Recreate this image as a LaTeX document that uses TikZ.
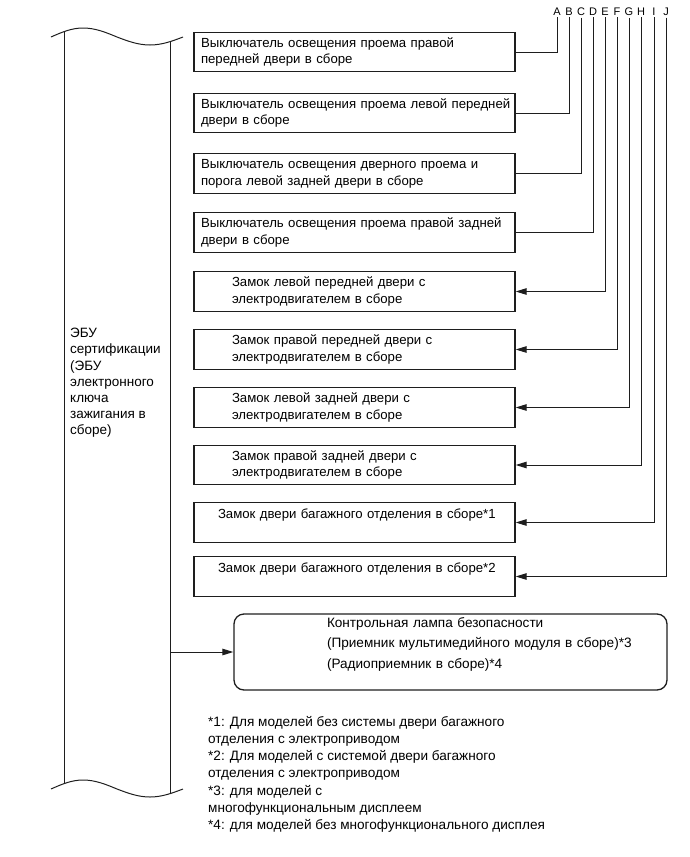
\documentclass[tikz,border=0pt]{standalone}
\usepackage{fontspec}
\setmainfont{Liberation Sans}
\usepackage{tikz}
\usetikzlibrary{arrows.meta,positioning}
\definecolor{Ink}{HTML}{1E1E1E}
\tikzset{
  wire/.style={line width=1pt,draw=Ink},
  sigarrow/.style={-{Triangle[length=11pt,width=6.5pt]},line width=1pt,draw=Ink},
  unitbox/.style={draw=Ink,line width=1.3pt,minimum width=321pt,minimum height=39.5pt,
    text width=313pt,inner xsep=4pt,inner ysep=0pt,align=left,
    font=\fontsize{13.2}{16.7}\selectfont,
    execute at begin node={\setlength\leftskip{3pt}\rightskip=-20pt plus 1fil}},
  lockbox/.style={unitbox,execute at begin node={\setlength\leftskip{34pt}\rightskip=-20pt plus 1fil}},
  trunkbox/.style={unitbox,execute at begin node={\setlength\leftskip{20pt}\rightskip=-20pt plus 1fil}},
  lampbox/.style={draw=Ink,line width=1.3pt,rounded corners=10pt,minimum width=433pt,minimum height=76pt,
    text width=425pt,inner xsep=4pt,inner ysep=0pt,align=left,
    font=\fontsize{13.6}{16.5}\selectfont,execute at begin node={\setlength\leftskip{89pt}}},
  pinlabel/.style={inner sep=1.5pt,font=\fontsize{11}{13}\selectfont},
  plain/.style={inner sep=0pt,align=left,font=\fontsize{13.5}{16.2}\selectfont},
}

\begin{document}
\begin{tikzpicture}[x=1pt,y=-1pt]
    \useasboundingbox (0,0) rectangle (689,857);

    \draw[wire] (51,37) sin (83,28) cos (117,37) sin (150,45) cos (183,37);
    \draw[wire] (51,789) sin (83,780) cos (117,789) sin (150,797) cos (183,789);
    \draw[wire] (64,32) -- (64,784);
    \draw[wire] (170,42) -- (170,794);
    \node[plain,anchor=north west] (ecu) at (70,328) {ЭБУ\\сертификации\\(ЭБУ\\электронного\\ключа\\зажигания в\\сборе)};
    \coordinate (ecuout) at (170,652);

    \node[unitbox] (sw1) at (354.5,52) {Выключатель освещения проема правой\\передней двери в сборе};
    \node[unitbox] (sw2) at (354.5,113) {Выключатель освещения проема левой передней\\двери в сборе};
    \node[unitbox] (sw3) at (354.5,173.5) {Выключатель освещения дверного проема и\\порога левой задней двери в сборе};
    \node[unitbox] (sw4) at (354.5,232.5) {Выключатель освещения проема правой задней\\двери в сборе};
    \node[lockbox] (lk5) at (354.5,291.5) {Замок левой передней двери с\\электродвигателем в сборе};
    \node[lockbox] (lk6) at (354.5,349.5) {Замок правой передней двери с\\электродвигателем в сборе};
    \node[lockbox] (lk7) at (354.5,407.5) {Замок левой задней двери с\\электродвигателем в сборе};
    \node[lockbox] (lk8) at (354.5,465) {Замок правой задней двери с\\электродвигателем в сборе};
    \node[trunkbox] (lk9) at (354.5,522.5) {Замок двери багажного отделения в сборе*1\\\mbox{}};
    \node[trunkbox] (lk10) at (354.5,576.5) {Замок двери багажного отделения в сборе*2\\\mbox{}};

    \node[lampbox] (lamp) at (450.5,652) {Контрольная лампа безопасности\\[4pt](Приемник мультимедийного модуля в сборе)*3\\[4pt](Радиоприемник в сборе)*4\rule[-18pt]{0pt}{18pt}};

    \foreach \l/\x in {A/557,B/569,C/581,D/593,E/605,F/617,G/629,H/641,I/654,J/666}
      \node[pinlabel] (p\l) at (\x,12) {\l};

    \draw[wire] (pA) |- (sw1);
    \draw[wire] (pB) |- (sw2);
    \draw[wire] (pC) |- (sw3);
    \draw[wire] (pD) |- (sw4);
    \foreach \l/\n in {E/5,F/6,G/7,H/8,I/9,J/10}
      \draw[sigarrow] (p\l) |- (lk\n);
    \draw[sigarrow] (ecuout) -- (lamp);

    \node[plain,anchor=north west,font=\fontsize{13.6}{17.2}\selectfont] (notes) at (208,716) {*1: Для моделей без системы двери багажного\\отделения с электроприводом\\*2: Для моделей с системой двери багажного\\отделения с электроприводом\\*3: для моделей с\\многофункциональным дисплеем\\*4: для моделей без многофункционального дисплея};
  \end{tikzpicture}
\end{document}
